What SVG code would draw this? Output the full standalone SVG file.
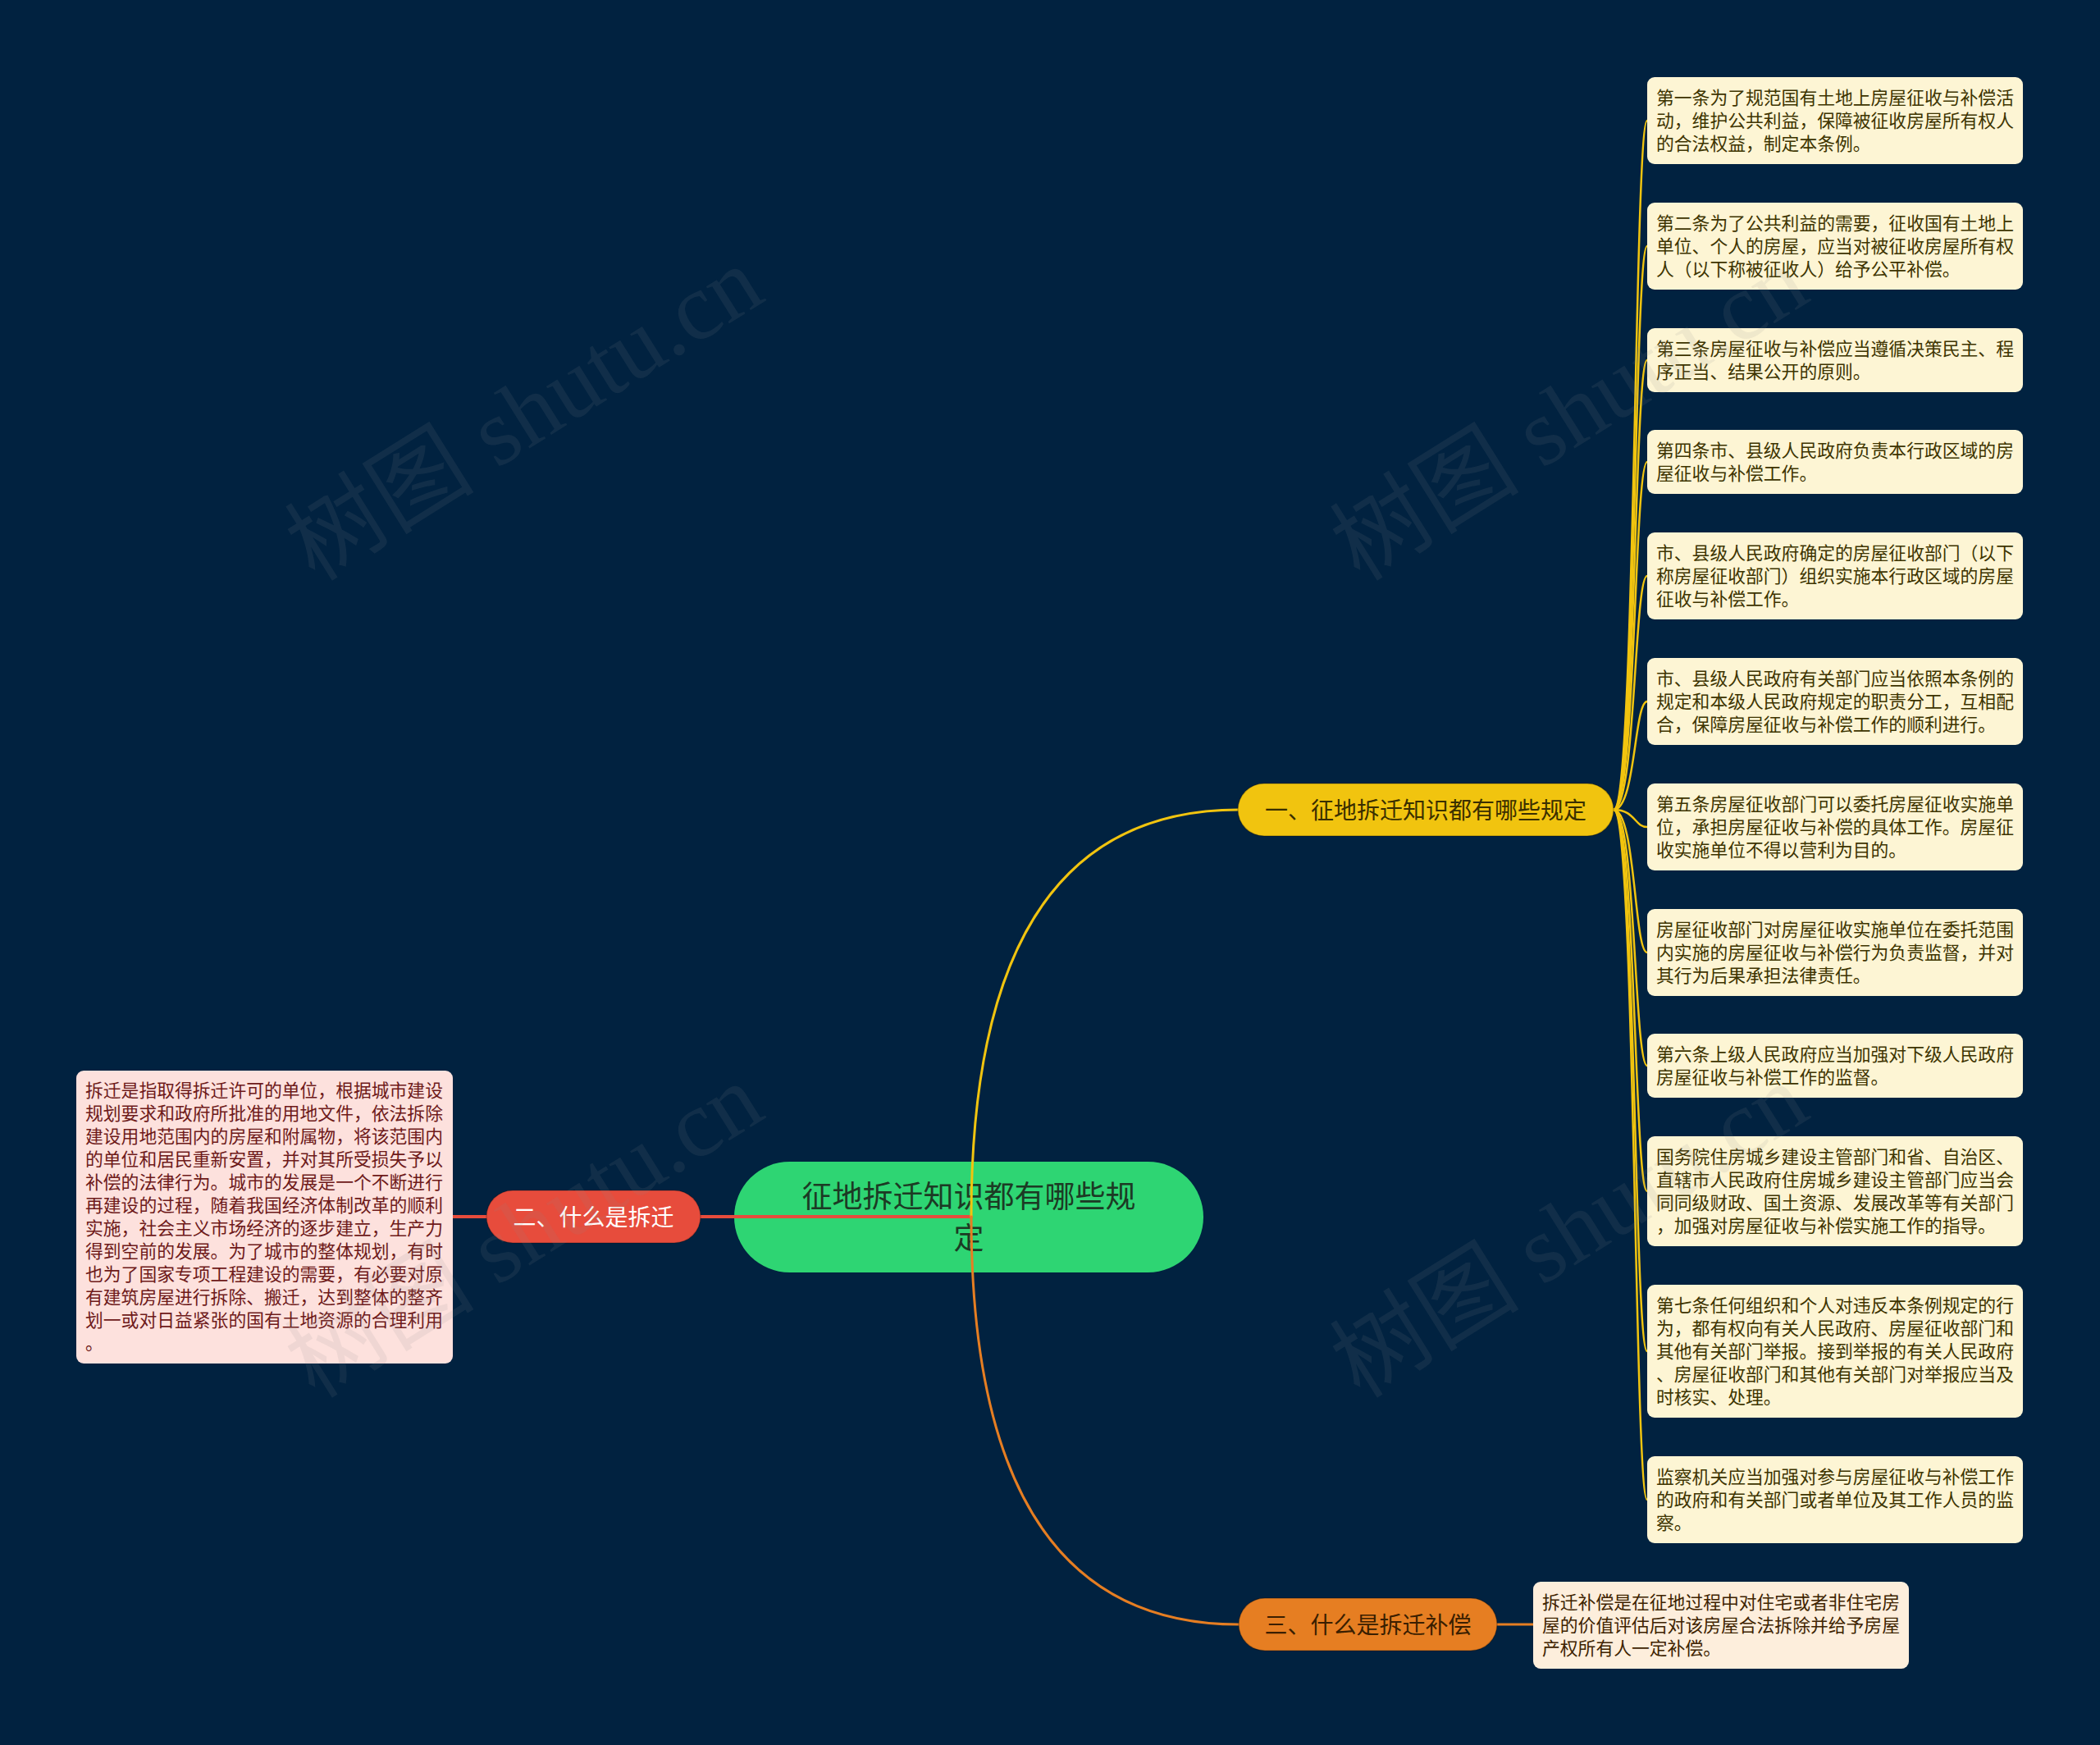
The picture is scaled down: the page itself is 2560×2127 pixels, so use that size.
<svg xmlns="http://www.w3.org/2000/svg" width="2560" height="2127" viewBox="0 0 2560 2127">
<style>
.t{font-family:"Noto Sans CJK SC","Noto Sans",sans-serif;}
.leaf{fill:#fdf5d4;}
.leafT{font-size:21.8px;fill:#3d3400;}
.c{fill:none;stroke-linecap:round;}
.y{stroke:#f1c40f;stroke-width:3;}
.yl{stroke:#f1c40f;stroke-width:2.5;}
.r{stroke:#e74c3c;stroke-width:4;}
.o{stroke:#e67e22;stroke-width:3;}
.wm{font-family:"Liberation Serif","Noto Sans CJK SC",serif;font-size:116px;fill:#8a8a8a;fill-opacity:0.12;}
</style>
<rect x="0" y="0" width="2560" height="2127" fill="#012240"/>

<g id="root">
<rect x="895" y="1416" width="572" height="135" rx="67.5" fill="#2ed573"/>
<text class="t" x="1181" y="1472" font-size="37" fill="#1c3a24" text-anchor="middle">征地拆迁知识都有哪些规</text>
<text class="t" x="1181" y="1523" font-size="37" fill="#1c3a24" text-anchor="middle">定</text>
</g>

<g id="connectors">
<path class="c r" d="M1184,1483 L854,1483"/>
<path class="c r" d="M593,1483 L552,1483"/>
<path class="c y" d="M1184,1483 Q1184,987 1510,987"/>
<path class="c o" d="M1184,1483 Q1184,1980 1510,1980"/>
<path class="c o" d="M1825,1980 L1869,1980"/>
<path class="c yl" d="M1967,987 C1994,987 1992,147 2008,147"/>
<path class="c yl" d="M1967,987 C1994,987 1992,300 2008,300"/>
<path class="c yl" d="M1967,987 C1994,987 1992,439 2008,439"/>
<path class="c yl" d="M1967,987 C1994,987 1992,563 2008,563"/>
<path class="c yl" d="M1967,987 C1994,987 1992,702 2008,702"/>
<path class="c yl" d="M1967,987 C1994,987 1992,855 2008,855"/>
<path class="c yl" d="M1967,987 C1994,987 1992,1008 2008,1008"/>
<path class="c yl" d="M1967,987 C1994,987 1992,1161 2008,1161"/>
<path class="c yl" d="M1967,987 C1994,987 1992,1299 2008,1299"/>
<path class="c yl" d="M1967,987 C1994,987 1992,1452 2008,1452"/>
<path class="c yl" d="M1967,987 C1994,987 1992,1647 2008,1647"/>
<path class="c yl" d="M1967,987 C1994,987 1992,1828 2008,1828"/>
</g>

<g id="branch1">
<rect x="1509" y="955" width="458" height="64" rx="32" fill="#f1c40f" stroke="#000" stroke-opacity="0.25" stroke-width="1.5"/>
<text class="t" x="1738" y="998" font-size="28" fill="#3a2f00" text-anchor="middle">一、征地拆迁知识都有哪些规定</text>
</g>
<g id="branch2">
<rect x="593" y="1451" width="261" height="64" rx="32" fill="#e74c3c" stroke="#000" stroke-opacity="0.2" stroke-width="1.5"/>
<text class="t" x="723.5" y="1494" font-size="28" fill="#ffffff" text-anchor="middle">二、什么是拆迁</text>
</g>
<g id="branch3">
<rect x="1510" y="1948" width="315" height="64" rx="32" fill="#e67e22" stroke="#000" stroke-opacity="0.25" stroke-width="1.5"/>
<text class="t" x="1667.5" y="1991" font-size="28" fill="#3a1e00" text-anchor="middle">三、什么是拆迁补偿</text>
</g>

<g id="leaf1">
<rect class="leaf" x="2008" y="94" width="458" height="106" rx="9"/>
<text class="t leafT" x="2019" y="127">第一条为了规范国有土地上房屋征收与补偿活</text>
<text class="t leafT" x="2019" y="155">动，维护公共利益，保障被征收房屋所有权人</text>
<text class="t leafT" x="2019" y="183">的合法权益，制定本条例。</text>
</g>
<g id="leaf2">
<rect class="leaf" x="2008" y="247" width="458" height="106" rx="9"/>
<text class="t leafT" x="2019" y="280">第二条为了公共利益的需要，征收国有土地上</text>
<text class="t leafT" x="2019" y="308">单位、个人的房屋，应当对被征收房屋所有权</text>
<text class="t leafT" x="2019" y="336">人（以下称被征收人）给予公平补偿。</text>
</g>
<g id="leaf3">
<rect class="leaf" x="2008" y="400" width="458" height="78" rx="9"/>
<text class="t leafT" x="2019" y="433">第三条房屋征收与补偿应当遵循决策民主、程</text>
<text class="t leafT" x="2019" y="461">序正当、结果公开的原则。</text>
</g>
<g id="leaf4">
<rect class="leaf" x="2008" y="524" width="458" height="78" rx="9"/>
<text class="t leafT" x="2019" y="557">第四条市、县级人民政府负责本行政区域的房</text>
<text class="t leafT" x="2019" y="585">屋征收与补偿工作。</text>
</g>
<g id="leaf5">
<rect class="leaf" x="2008" y="649" width="458" height="106" rx="9"/>
<text class="t leafT" x="2019" y="682">市、县级人民政府确定的房屋征收部门（以下</text>
<text class="t leafT" x="2019" y="710">称房屋征收部门）组织实施本行政区域的房屋</text>
<text class="t leafT" x="2019" y="738">征收与补偿工作。</text>
</g>
<g id="leaf6">
<rect class="leaf" x="2008" y="802" width="458" height="106" rx="9"/>
<text class="t leafT" x="2019" y="835">市、县级人民政府有关部门应当依照本条例的</text>
<text class="t leafT" x="2019" y="863">规定和本级人民政府规定的职责分工，互相配</text>
<text class="t leafT" x="2019" y="891">合，保障房屋征收与补偿工作的顺利进行。</text>
</g>
<g id="leaf7">
<rect class="leaf" x="2008" y="955" width="458" height="106" rx="9"/>
<text class="t leafT" x="2019" y="988">第五条房屋征收部门可以委托房屋征收实施单</text>
<text class="t leafT" x="2019" y="1016">位，承担房屋征收与补偿的具体工作。房屋征</text>
<text class="t leafT" x="2019" y="1044">收实施单位不得以营利为目的。</text>
</g>
<g id="leaf8">
<rect class="leaf" x="2008" y="1108" width="458" height="106" rx="9"/>
<text class="t leafT" x="2019" y="1141">房屋征收部门对房屋征收实施单位在委托范围</text>
<text class="t leafT" x="2019" y="1169">内实施的房屋征收与补偿行为负责监督，并对</text>
<text class="t leafT" x="2019" y="1197">其行为后果承担法律责任。</text>
</g>
<g id="leaf9">
<rect class="leaf" x="2008" y="1260" width="458" height="78" rx="9"/>
<text class="t leafT" x="2019" y="1293">第六条上级人民政府应当加强对下级人民政府</text>
<text class="t leafT" x="2019" y="1321">房屋征收与补偿工作的监督。</text>
</g>
<g id="leaf10">
<rect class="leaf" x="2008" y="1385" width="458" height="134" rx="9"/>
<text class="t leafT" x="2019" y="1418">国务院住房城乡建设主管部门和省、自治区、</text>
<text class="t leafT" x="2019" y="1446">直辖市人民政府住房城乡建设主管部门应当会</text>
<text class="t leafT" x="2019" y="1474">同同级财政、国土资源、发展改革等有关部门</text>
<text class="t leafT" x="2019" y="1502">，加强对房屋征收与补偿实施工作的指导。</text>
</g>
<g id="leaf11">
<rect class="leaf" x="2008" y="1566" width="458" height="162" rx="9"/>
<text class="t leafT" x="2019" y="1599">第七条任何组织和个人对违反本条例规定的行</text>
<text class="t leafT" x="2019" y="1627">为，都有权向有关人民政府、房屋征收部门和</text>
<text class="t leafT" x="2019" y="1655">其他有关部门举报。接到举报的有关人民政府</text>
<text class="t leafT" x="2019" y="1683">、房屋征收部门和其他有关部门对举报应当及</text>
<text class="t leafT" x="2019" y="1711">时核实、处理。</text>
</g>
<g id="leaf12">
<rect class="leaf" x="2008" y="1775" width="458" height="106" rx="9"/>
<text class="t leafT" x="2019" y="1808">监察机关应当加强对参与房屋征收与补偿工作</text>
<text class="t leafT" x="2019" y="1836">的政府和有关部门或者单位及其工作人员的监</text>
<text class="t leafT" x="2019" y="1864">察。</text>
</g>

<g id="leftLeaf">
<rect x="93" y="1305" width="459" height="357" rx="9" fill="#fde1dd"/>
<g class="t" font-size="21.8" fill="#6e1a1a">
<text x="104" y="1337">拆迁是指取得拆迁许可的单位，根据城市建设</text>
<text x="104" y="1365">规划要求和政府所批准的用地文件，依法拆除</text>
<text x="104" y="1393">建设用地范围内的房屋和附属物，将该范围内</text>
<text x="104" y="1421">的单位和居民重新安置，并对其所受损失予以</text>
<text x="104" y="1449">补偿的法律行为。城市的发展是一个不断进行</text>
<text x="104" y="1477">再建设的过程，随着我国经济体制改革的顺利</text>
<text x="104" y="1505">实施，社会主义市场经济的逐步建立，生产力</text>
<text x="104" y="1533">得到空前的发展。为了城市的整体规划，有时</text>
<text x="104" y="1561">也为了国家专项工程建设的需要，有必要对原</text>
<text x="104" y="1589">有建筑房屋进行拆除、搬迁，达到整体的整齐</text>
<text x="104" y="1617">划一或对日益紧张的国有土地资源的合理利用</text>
<text x="104" y="1645">。</text>
</g>
</g>

<g id="bottomLeaf">
<rect x="1869" y="1928" width="458" height="106" rx="9" fill="#fdeedc"/>
<g class="t" font-size="21.8" fill="#3e2300">
<text x="1880" y="1961">拆迁补偿是在征地过程中对住宅或者非住宅房</text>
<text x="1880" y="1989">屋的价值评估后对该房屋合法拆除并给予房屋</text>
<text x="1880" y="2017">产权所有人一定补偿。</text>
</g>
</g>

<g id="watermarks">
<text class="wm" x="384" y="710" transform="rotate(-32 384 710)">树图 shutu.cn</text>
<text class="wm" x="1658" y="710" transform="rotate(-32 1658 710)">树图 shutu.cn</text>
<text class="wm" x="384" y="1706" transform="rotate(-32 384 1706)">树图 shutu.cn</text>
<text class="wm" x="1658" y="1706" transform="rotate(-32 1658 1706)">树图 shutu.cn</text>
</g>
</svg>
